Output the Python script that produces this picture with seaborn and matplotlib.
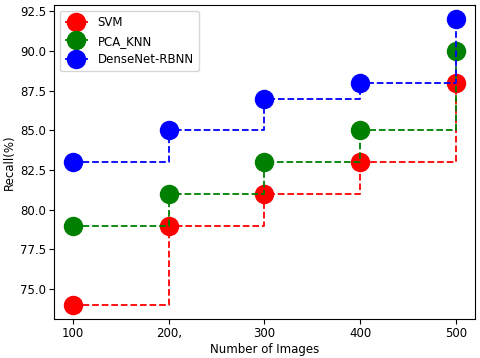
import matplotlib
matplotlib.use('Agg')
import seaborn as sns
import matplotlib.pyplot as plt

# Data
images = [100, 200, 300, 400, 500]
tick_labels = ['100', '200,', '300', '400', '500']
svm = [74, 79, 81, 83, 88]
pca_knn = [79, 81, 83, 85, 90]
densenet_rbnn = [83, 85, 87, 88, 92]

plt.rcParams['font.size'] = 8.5

fig = plt.figure(figsize=(4.8, 3.58), dpi=100)
ax = fig.add_axes([0.1125, 0.108, 0.877, 0.878])

for vals, col, name in [(svm, 'red', 'SVM'),
                        (pca_knn, 'green', 'PCA_KNN'),
                        (densenet_rbnn, 'blue', 'DenseNet-RBNN')]:
    sns.lineplot(x=images, y=vals, ax=ax, color=col, label=name,
                 drawstyle='steps-post', linestyle='--', marker='o',
                 markersize=14, markeredgewidth=0, linewidth=1.3)

ax.set_xticks(images)
ax.set_xticklabels(tick_labels)
ax.tick_params(pad=2)
ax.set_xlabel('Number of Images', labelpad=2.5)
ax.set_ylabel('Recall(%)', labelpad=3)
ax.legend(loc='upper left')

plt.savefig('out.png')
plt.close()
